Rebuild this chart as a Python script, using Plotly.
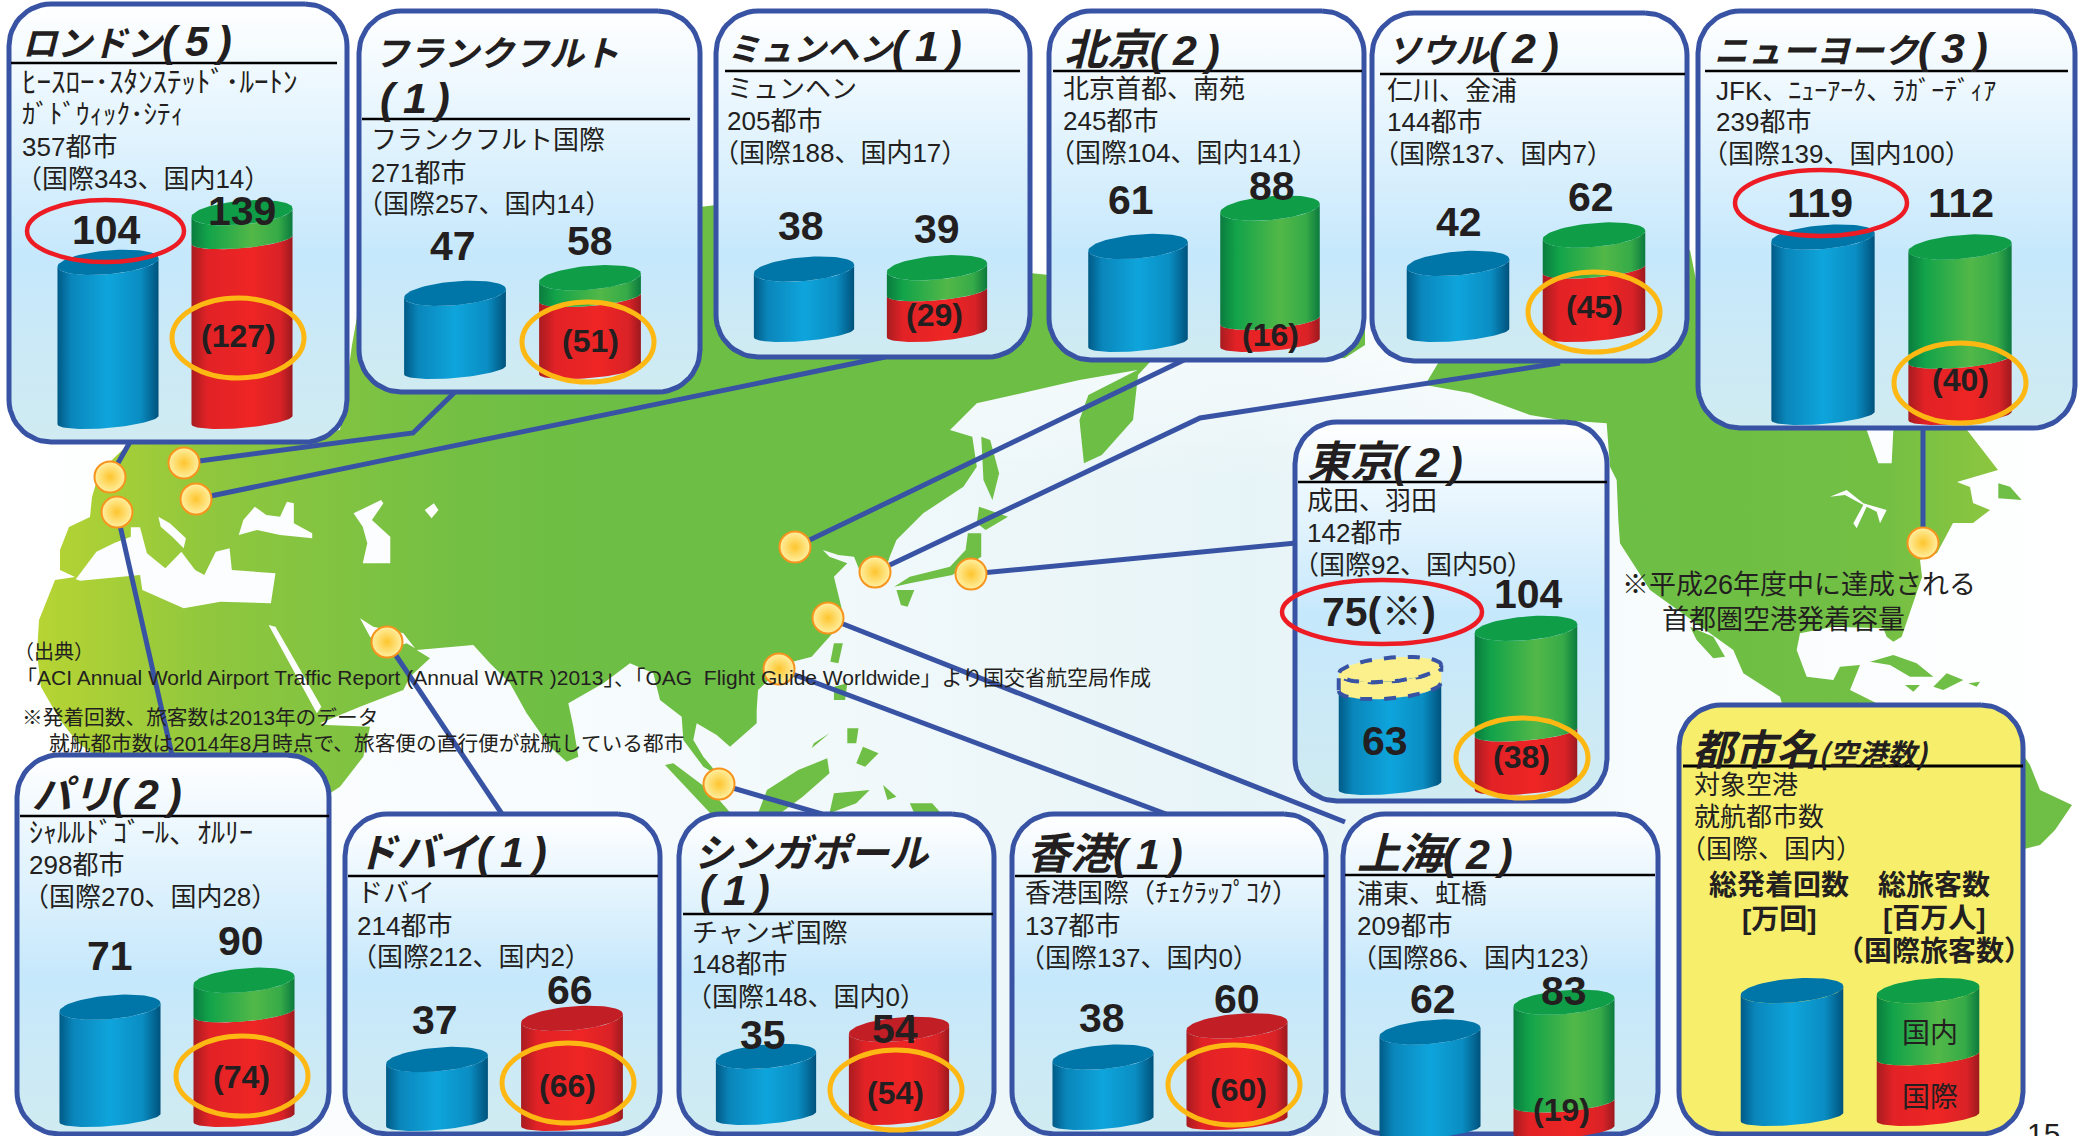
import numpy as np
import plotly.graph_objects as go

W, H = 2083, 1136
BORDER = '#3953a4'
INK = '#231f20'
FONT = 'Liberation Sans, Noto Sans CJK JP'
JP = 'Noto Sans CJK JP'
KX = 1.42  # pixels per unit on every cylinder axis
CAP_LIFT = 7  # the drawn top of a cylinder stands this far above its value
CAP_A = 8.4

# --- data ---
CITIES = ['ロンドン', 'フランクフルト', 'ミュンヘン', '北京', 'ソウル', 'ニューヨーク',
          '東京', 'パリ', 'ドバイ', 'シンガポール', '香港', '上海']
AIRPORT_COUNT = [5, 1, 1, 2, 2, 3, 2, 2, 1, 1, 1, 2]
MOVEMENTS = [104, 47, 38, 61, 42, 119, 63, 71, 37, 35, 38, 62]
PASSENGERS = [139, 58, 39, 88, 62, 112, 104, 90, 66, 54, 60, 83]
INTERNATIONAL = [127, 51, 29, 16, 45, 40, 38, 74, 66, 54, 60, 19]
TOKYO_CAPACITY = 75
LEGEND_VALUES = [82, 82, 43]
AIRPORT_LINES = [
    ['ﾋｰｽﾛｰ･ｽﾀﾝｽﾃｯﾄﾞ･ﾙｰﾄﾝ', 'ｶﾞﾄﾞｳｨｯｸ･ｼﾃｨ'],
    ['フランクフルト国際'], ['ミュンヘン'], ['北京首都、南苑'], ['仁川、金浦'],
    ['JFK、ﾆｭｰｱｰｸ、ﾗｶﾞｰﾃﾞｨｱ'], ['成田、羽田'], ['ｼｬﾙﾙﾄﾞｺﾞｰﾙ、ｵﾙﾘｰ'], ['ドバイ'],
    ['チャンギ国際'], ['香港国際（ﾁｪｸﾗｯﾌﾟｺｸ）'], ['浦東、虹橋'],
]
DESTINATIONS = [357, 271, 205, 245, 144, 239, 142, 298, 214, 148, 137, 209]
DEST_INTL = [343, 257, 188, 104, 137, 139, 92, 270, 212, 148, 137, 86]
DEST_DOM = [14, 14, 17, 141, 7, 100, 50, 28, 2, 0, 0, 123]

TITLE_SIZES = [35, 35, 33, 43, 34, 34, 43, 40, 40, 39, 43, 43]
WIDE_LINES = {'ﾋｰｽﾛｰ･ｽﾀﾝｽﾃｯﾄﾞ･ﾙｰﾄﾝ': 29, 'ｼｬﾙﾙﾄﾞｺﾞｰﾙ、ｵﾙﾘｰ': 28, 'ｶﾞﾄﾞｳｨｯｸ･ｼﾃｨ': 27}

# --- panel layout: box, gradient break, rule, title, text, cylinders, label centres ---
PANELS = [
    dict(box=(9, 4, 347, 442), brk=256, rule=(11, 337, 63), title=[(20, 40)], tx=20, ty=[83, 115, 147, 179], indent=[0, 0, 0, 8],
         c=(108, 242), base=420, m=(106, 230), p=(242, 211), i=(238, 336)),
    dict(box=(359, 11, 700, 392), brk=256, rule=(362, 690, 119), title=[(372, 50), (378, 98)], tx=369, ty=[140, 173, 204], indent=[0, 0, 0],
         c=(455, 590), base=370, m=(453, 246), p=(590, 241), i=(590, 341)),
    dict(box=(716, 11, 1030, 357), brk=256, rule=(725, 1020, 71), title=[(725, 46)], tx=725, ty=[89, 121, 153], indent=[0, 0, 0],
         c=(804, 937), base=333, m=(801, 226), p=(937, 229), i=(934, 315)),
    dict(box=(1049, 11, 1364, 360), brk=256, rule=(1053, 1362, 71), title=[(1062, 46)], tx=1061, ty=[89, 121, 153], indent=[0, 0, 0],
         c=(1138, 1270), base=343, m=(1131, 200), p=(1272, 186), i=(1270, 335)),
    dict(box=(1372, 13, 1687, 361), brk=256, rule=(1380, 1685, 74), title=[(1385, 48)], tx=1385, ty=[91, 122, 154], indent=[0, 0, 0],
         c=(1458, 1594), base=333, m=(1459, 222), p=(1591, 197), i=(1594, 307)),
    dict(box=(1698, 11, 2075, 428), brk=256, rule=(1705, 2068, 71), title=[(1712, 48)], tx=1714, ty=[91, 122, 154], indent=[0, 0, 0],
         c=(1823, 1960), base=416, m=(1820, 203), p=(1961, 203), i=(1960, 380)),
    dict(box=(1295, 422, 1607, 801), brk=616, rule=(1298, 1607, 482), title=[(1305, 458)], tx=1305, ty=[501, 533, 565], indent=[0, 0, 0],
         c=(1390, 1526), base=786, m=(1385, 741), p=(1528, 594), i=(1521, 757)),
    dict(box=(17, 755, 329, 1134), brk=976, rule=(20, 329, 816), title=[(30, 792)], tx=27, ty=[833, 865, 897], indent=[0, 0, 8],
         c=(110, 244), base=1118, m=(110, 956), p=(241, 941), i=(241, 1077)),
    dict(box=(345, 814, 660, 1134), brk=976, rule=(348, 658, 876), title=[(355, 850)], tx=355, ty=[893, 926, 957], indent=[0, 0, 8],
         c=(437, 572), base=1122, m=(435, 1020), p=(570, 990), i=(567, 1086)),
    dict(box=(679, 814, 994, 1134), brk=976, rule=(683, 993, 914), title=[(692, 850), (698, 890)], tx=690, ty=[933, 964, 997], indent=[0, 0, 8],
         c=(766, 899), base=1116, m=(763, 1035), p=(895, 1029), i=(895, 1093)),
    dict(box=(1012, 814, 1326, 1134), brk=976, rule=(1015, 1325, 876), title=[(1025, 850)], tx=1023, ty=[893, 926, 958], indent=[0, 0, 8],
         c=(1103, 1237), base=1121, m=(1102, 1018), p=(1237, 999), i=(1238, 1090)),
    dict(box=(1343, 814, 1658, 1134), brk=976, rule=(1345, 1655, 875), title=[(1355, 850)], tx=1355, ty=[894, 926, 958], indent=[0, 0, 8],
         c=(1430, 1564), base=1130, m=(1433, 999), p=(1564, 991), i=(1561, 1110)),
]
LEGEND_PANEL = dict(box=(1679, 705, 2023, 1134), rule=(1683, 2023, 766), c=(1792, 1928), base=1117)

RED_RINGS = [(27, 184, 200, 262), (1735, 1907, 170, 236), (1282, 1482, 580, 644)]
ORANGE_RINGS = [(238, 338), (588, 342), (1594, 312), (1960, 383), (1522, 758),
                (242, 1076), (568, 1083), (896, 1090), (1234, 1085)]

CITY_MARKERS_X = [110, 184, 196, 795, 875, 1923, 971, 117, 387, 719, 779, 828]
CITY_MARKERS_Y = [477, 463, 499, 547, 572, 543, 574, 512, 642, 784, 669, 618]
CONNECTORS = [
    [(110, 477), (130, 442)],
    [(184, 463), (413, 433), (455, 392)],
    [(196, 499), (885, 357)],
    [(795, 547), (1184, 360)],
    [(875, 572), (1200, 418), (1560, 363)],
    [(1923, 428), (1923, 543)],
    [(971, 574), (1296, 543)],
    [(117, 512), (172, 755)],
    [(387, 642), (502, 814)],
    [(719, 784), (822, 814)],
    [(779, 669), (1166, 814)],
    [(828, 618), (1345, 822)],
]


def crop(points, x0, y0, sx, sy=3.0):
    return [(x0 + x / sx, y0 + y / sy) for x, y in points]


def z4(points):
    return crop(points, 0, 420, 2.178)


def z5(points):
    return crop(points, 700, 400, 2.24)


def z9(points):
    return crop(points, 320, 560, 3.0)


def z10(points):
    return crop(points, 1600, 420, 3.0)


# --- rough map outlines, traced in pixels of the picture ---
EURAFRICA = (
    [(133, 440), (225, 442), (340, 430), (352, 345), (360, 300), (700, 207), (716, 205), (1030, 273),
     (1049, 275), (1365, 288), (1365, 345), (1345, 358), (1150, 362), (1138, 375)]
    + z5([(970, 60), (900, 165), (860, 190), (850, 60), (870, -15), (980, -90), (850, -60), (620, 10), (560, 90),
          (610, 110), (620, 200), (590, 260), (500, 340), (440, 420), (425, 470), (410, 530), (395, 565),
          (360, 520), (345, 470), (310, 465), (275, 450), (290, 470), (330, 490), (300, 530), (320, 640),
          (310, 680), (250, 770), (195, 790), (130, 870)])
    + z9([(1310, 450), (1310, 490), (1230, 560), (1190, 525), (1130, 490), (1120, 540), (1150, 590), (1200, 650),
          (1150, 620), (1090, 540), (1085, 470), (1020, 420), (1000, 340), (930, 310), (850, 370), (745, 430),
          (760, 500), (775, 590), (740, 605), (690, 560), (620, 460), (570, 370), (510, 310), (460, 255),
          (290, 270), (330, 295), (270, 350), (250, 390), (120, 440), (0, 490), (20, 495), (150, 500),
          (130, 590), (60, 680), (30, 700)])
    + [(330, 900), (100, 900), (92, 753), (78, 743), (60, 720), (41, 687), (37, 653), (39, 620), (55, 580),
       (75, 577), (60, 570), (60, 550), (69, 527), (90, 517), (92, 497), (99, 473), (115, 457)]
)
NORTH_AMERICA = (
    [(1425, 385), (1440, 360), (1690, 250), (1700, 300), (2020, 400), (1967, 430), (1998, 470), (1957, 482),
     (1970, 487), (1973, 503), (1990, 510), (1973, 523), (1953, 523), (1937, 553), (1920, 560), (1922, 577)]
    + z10([(905, 650), (880, 665), (860, 650), (850, 625), (700, 620), (600, 640), (590, 690), (620, 770),
           (700, 780), (720, 740), (780, 735), (750, 810), (830, 850), (830, 900), (560, 900), (540, 830), (430, 760),
           (400, 690), (330, 640), (150, 510), (60, 370), (55, 300), (50, 180), (30, 140), (20, 10)])
    + [(1560, 420), (1530, 415), (1470, 393)]
)
LAND_ISLANDS = [
    z5([(630, 110), (650, 120), (670, 220), (655, 300), (635, 240)]),
    z5([(625, 320), (690, 350), (640, 390), (620, 370)]),
    z5([(600, 400), (630, 400), (630, 470), (565, 525), (470, 550), (435, 560), (470, 530), (560, 500), (595, 450)]),
    z5([(440, 570), (480, 570), (465, 620), (450, 615)]),
    z5([(300, 730), (320, 730), (310, 790), (292, 785)]),
    z5([(300, 860), (330, 850), (325, 900), (300, 900)]),
    z5([(330, 985), (355, 985), (350, 1030), (330, 1030)]),
    z5([(365, 1040), (400, 1060), (370, 1100), (350, 1090)]),
    z5([(290, 1000), (250, 1045), (255, 1030)]),
    z5([(150, 1170), (220, 1110), (285, 1075), (290, 1120), (230, 1190), (180, 1240), (130, 1240)]),
    z5([(300, 1180), (380, 1170), (350, 1210), (290, 1240)]),
    z5([(410, 1155), (440, 1190), (420, 1200)]),
    z5([(470, 1210), (520, 1210), (540, 1240), (480, 1240)]),
    z9([(1035, 615), (1060, 610), (1180, 700), (1250, 780), (1190, 780)]),
    z10([(270, 620), (340, 650), (375, 710), (340, 715), (290, 660)]),
    z10([(1195, 190), (1230, 200), (1265, 240), (1195, 235)]),
    z10([(810, 725), (880, 705), (950, 730), (1000, 770), (930, 770), (870, 735)]),
    z10([(1000, 800), (1040, 760), (1090, 780), (1030, 810)]),
    z10([(915, 795), (960, 795), (940, 815)]),
    z10([(1105, 790), (1140, 785), (1130, 800)]),
    [(2020, 750), (2030, 765), (2040, 790), (2072, 805), (2055, 830), (2040, 845), (2020, 850)],
]
WATER = [
    z4([(165, 478), (210, 395), (250, 368), (285, 350), (285, 322), (305, 322), (320, 400), (360, 445), (395, 395),
        (425, 450), (445, 465), (470, 395), (500, 385), (505, 450), (600, 460), (590, 550), (480, 545), (400, 565),
        (310, 510), (305, 465), (175, 482)]),
    z4([(345, 290), (370, 310), (405, 355), (400, 385), (375, 350), (350, 320)]),
    z4([(520, 345), (530, 300), (555, 260), (580, 285), (610, 290), (625, 245), (640, 250), (640, 310), (680, 340),
        (680, 355), (610, 345), (560, 330)]),
    z4([(770, 280), (830, 240), (835, 250), (810, 300), (850, 350), (850, 430), (790, 430), (800, 370), (790, 320)]),
    z4([(925, 270), (945, 250), (955, 270), (940, 295)]),
    z4([(585, 615), (600, 620), (700, 860), (690, 880)]),
    z9([(120, 175), (160, 200), (250, 220), (285, 265), (260, 250), (200, 270), (150, 230)]),
    z10([(800, 30), (880, 30), (875, 130), (835, 130)]),
    z10([(690, 230), (740, 210), (790, 250), (860, 270), (840, 310), (830, 275), (800, 260), (770, 325), (760, 310),
         (790, 255), (735, 225)]),
]

BLUE_SIDE = [[0, '#005a86'], [0.14, '#0a86bb'], [0.5, '#0ea5dc'], [0.82, '#0a8dc2'], [1, '#00527c']]
RED_SIDE = [[0, '#a81c20'], [0.16, '#e22226'], [0.6, '#ee2524'], [0.88, '#d92227'], [1, '#9c1a1e']]
GREEN_SIDE = [[0, '#0a7c3e'], [0.16, '#12a34a'], [0.6, '#52b848'], [0.86, '#36ab48'], [1, '#0b7a3e']]
BLUE_TOP, RED_TOP, GREEN_TOP = '#0076a8', '#c21e25', '#0f9d48'

fig = go.Figure()


def area(points, color=None, gradient=None):
    xs, ys = zip(*points)
    fig.add_trace(go.Scatter(x=list(xs) + [xs[0]], y=list(ys) + [ys[0]], mode='lines', line=dict(width=0),
                             fill='toself', fillcolor=color, fillgradient=gradient, hoverinfo='skip'))


def rounded(x0, y0, x1, y1, r=42):
    pts = []
    for cx, cy, a0 in [(x1 - r, y0 + r, -90), (x1 - r, y1 - r, 0), (x0 + r, y1 - r, 90), (x0 + r, y0 + r, 180)]:
        for a in np.radians(np.linspace(a0, a0 + 90, 14)):
            pts.append((cx + r * np.cos(a), cy + r * np.sin(a)))
    return pts


def panel(box, brk=None, fill=None):
    x0, y0, x1, y1 = box
    pts = rounded(*box)
    xs, ys = zip(*pts)
    grad = None
    if brk:
        grad = dict(type='vertical', start=y0, stop=y1,
                    colorscale=[[0, '#ffffff'], [(brk - y0) / (y1 - y0), '#c6e8fc'], [1, '#d0ebf1']])
    fig.add_trace(go.Scatter(x=list(xs) + [xs[0]], y=list(ys) + [ys[0]], mode='lines',
                             line=dict(color=BORDER, width=5), fill='toself', fillcolor=fill, fillgradient=grad,
                             hoverinfo='skip'))


HALF = 0.377
TILT = 3.0


def arc(c, v, a):
    t = np.linspace(np.pi, 2 * np.pi, 40)
    return c + HALF * np.cos(t), v + TILT * np.cos(t) + a * np.sin(t)


def side(axis, c, v0, v1, a0, a1, colorscale=None, fill=None, line=None):
    bx, by = arc(c, v0, a0)
    tx, ty = arc(c, v1, a1)
    x = np.concatenate([bx, tx[::-1], bx[:1]])
    y = np.concatenate([by, ty[::-1], by[:1]])
    grad = dict(type='horizontal', start=c - HALF, stop=c + HALF, colorscale=colorscale) if colorscale else None
    fig.add_trace(go.Scatter(x=x, y=y, xaxis=f'x{axis}', yaxis=f'y{axis}', mode='lines', cliponaxis=False,
                             line=line or dict(width=0), fill='toself', fillcolor=fill, fillgradient=grad,
                             hoverinfo='skip'))


def cap(axis, c, v, color, line=None):
    t = np.linspace(0, 2 * np.pi, 70)
    fig.add_trace(go.Scatter(x=c + HALF * np.cos(t), y=v + TILT * np.cos(t) + CAP_A * np.sin(t),
                             xaxis=f'x{axis}', yaxis=f'y{axis}', mode='lines', cliponaxis=False,
                             line=line or dict(width=0), fill='toself', fillcolor=color, hoverinfo='skip'))


def cylinders(axis, movement, total, intl):
    side(axis, 0, 0, movement + CAP_LIFT, 5.6, CAP_A, BLUE_SIDE)
    cap(axis, 0, movement + CAP_LIFT, BLUE_TOP)
    if intl < total:
        side(axis, 1, 0, intl, 5.6, 6, RED_SIDE)
        side(axis, 1, intl, total + CAP_LIFT, 6, CAP_A, GREEN_SIDE)
        cap(axis, 1, total + CAP_LIFT, GREEN_TOP)
    else:
        side(axis, 1, 0, total + CAP_LIFT, 5.6, CAP_A, RED_SIDE)
        cap(axis, 1, total + CAP_LIFT, RED_TOP)


def add_axes(axis, c, base):
    gap = (c[1] - c[0]) / 2
    low = min(base + 24, H)
    high = base - 240
    fig.update_layout(**{
        f'xaxis{axis}': dict(domain=[(c[0] - gap) / W, (c[1] + gap) / W], range=[-0.5, 1.5], visible=False,
                             anchor=f'y{axis}', fixedrange=True),
        f'yaxis{axis}': dict(domain=[(H - low) / H, (H - high) / H], range=[-(low - base) / KX, (base - high) / KX],
                             visible=False, anchor=f'x{axis}', fixedrange=True),
    })


def label(x, y, text, size=26, anchor='left', family=FONT, color=INK):
    fig.add_annotation(x=x, y=y, xref='x', yref='y', text=text, showarrow=False, xanchor=anchor, yanchor='middle',
                       font=dict(family=family, size=size, color=color))


def paren_shift(text):
    return 14 if text.startswith('（') else 0


# background and map
area([(0, 250), (W, 250), (W, H), (0, H)],
     gradient=dict(type='horizontal', start=0, stop=W,
                   colorscale=[[0, '#ffffff'], [0.3, '#f6fbfd'], [0.6, '#e7f4f7'], [0.8, '#f8fcfd'], [1, '#ffffff']]))
area([(0, 250), (W, 250), (W, 480), (0, 480)],
     gradient=dict(type='vertical', start=250, stop=480,
                   colorscale=[[0, 'rgba(255,255,255,1)'], [1, 'rgba(255,255,255,0)']]))
area(EURAFRICA, gradient=dict(type='horizontal', start=37, stop=620,
                              colorscale=[[0, '#b7d433'], [0.3, '#8fc73e'], [0.75, '#72bf44'], [1, '#6dbe45']]))
area(NORTH_AMERICA, gradient=dict(type='horizontal', start=1600, stop=2000,
                                  colorscale=[[0, '#6dbe45'], [0.7, '#72bf44'], [1, '#8dc63f']]))
for isle in LAND_ISLANDS:
    area(isle, color='#6fbe45')
for pond in WATER:
    area(pond, color='#fbfdfe')

# connector lines and city markers
for path in CONNECTORS:
    xs, ys = zip(*path)
    fig.add_trace(go.Scatter(x=xs, y=ys, mode='lines', line=dict(color=BORDER, width=5), hoverinfo='skip'))
fig.add_trace(go.Scatter(x=CITY_MARKERS_X, y=CITY_MARKERS_Y, mode='markers', hoverinfo='skip',
                         marker=dict(size=31, color='#fff0a3', gradient=dict(type='radial', color='#fdc52e'),
                                     line=dict(color='#f7941d', width=2))))

# city panels
for n, p in enumerate(PANELS):
    axis = n + 2
    panel(p['box'], brk=p['brk'])
    add_axes(axis, p['c'], p['base'])
    cylinders(axis, MOVEMENTS[n], PASSENGERS[n], INTERNATIONAL[n])
    if CITIES[n] == '東京':
        dash = dict(color=BORDER, width=4, dash='dash')
        side(axis, 0, MOVEMENTS[n] + CAP_LIFT, TOKYO_CAPACITY + CAP_LIFT, CAP_A, CAP_A, fill='#fbf08b', line=dash)
        cap(axis, 0, TOKYO_CAPACITY + CAP_LIFT, '#fbf08b', line=dash)

    x0, x1, y = p['rule']
    fig.add_shape(type='line', x0=x0, x1=x1, y0=y, y1=y, line=dict(color='#000000', width=2.5), layer='above')

    size = TITLE_SIZES[n]
    suffix = (f'<span style="font-family:Liberation Sans;font-size:43px">(\u2009{AIRPORT_COUNT[n]}\u2009)</span>')
    parts = [CITIES[n] + suffix] if len(p['title']) == 1 else [CITIES[n], suffix]
    for text, (tx, ty) in zip(parts, p['title']):
        label(tx, ty, f'<b><i>{text}</i></b>', size=size, family=JP)

    lines = AIRPORT_LINES[n] + [f'{DESTINATIONS[n]}都市', f'（国際{DEST_INTL[n]}、国内{DEST_DOM[n]}）']
    for text, ty, shift in zip(lines, p['ty'], p['indent']):
        label(p['tx'] + shift - paren_shift(text), ty, text, size=WIDE_LINES.get(text, 26))

    label(p['m'][0], p['m'][1], f'<b>{MOVEMENTS[n]}</b>', size=41, anchor='center')
    label(p['p'][0], p['p'][1], f'<b>{PASSENGERS[n]}</b>', size=41, anchor='center')
    label(p['i'][0], p['i'][1], f'<b>({INTERNATIONAL[n]})</b>', size=32, anchor='center')

label(1379, 612, f'<b>{TOKYO_CAPACITY}(※)</b>', size=41, anchor='center')

# legend panel
panel(LEGEND_PANEL['box'], fill='#f7ee6b')
add_axes(len(PANELS) + 2, LEGEND_PANEL['c'], LEGEND_PANEL['base'])
cylinders(len(PANELS) + 2, *LEGEND_VALUES)
x0, x1, y = LEGEND_PANEL['rule']
fig.add_shape(type='line', x0=x0, x1=x1, y0=y, y1=y, line=dict(color='#000000', width=3), layer='above')
label(1690, 746, '<b><i>都市名<span style="font-size:29px">(空港数)</span></i></b>', size=42, family=JP)
for text, ty in zip(['対象空港', '就航都市数', '（国際、国内）'], [785, 817, 849]):
    label(1692 - paren_shift(text), ty, text)
label(1779, 885, '<b>総発着回数</b>', size=28, anchor='center')
label(1779, 919, '<b>[万回]</b>', size=28, anchor='center')
label(1934, 885, '<b>総旅客数</b>', size=28, anchor='center')
label(1934, 918, '<b>[百万人]</b>', size=28, anchor='center')
label(1934, 951, '<b>（国際旅客数）</b>', size=28, anchor='center')
label(1930, 1033, '国内', size=28, anchor='center')
label(1930, 1097, '国際', size=28, anchor='center')

# rings around the figures picked out
for x0, x1, y0, y1 in RED_RINGS:
    fig.add_shape(type='circle', x0=x0, x1=x1, y0=y0, y1=y1, line=dict(color='#ed1c24', width=4.5), layer='above')
for cx, cy in ORANGE_RINGS:
    fig.add_shape(type='circle', x0=cx - 66, x1=cx + 66, y0=cy - 40, y1=cy + 40,
                  line=dict(color='#fdb813', width=5), layer='above')

# notes
label(12, 652, '（出典）', size=20)
label(14, 677, '「ACI Annual World Airport Traffic Report (Annual WATR )2013」、「OAG  Flight Guide Worldwide」より国交省航空局作成', size=21)
label(20, 717, '※発着回数、旅客数は2013年のデータ', size=20.7)
label(47, 743, '就航都市数は2014年8月時点で、旅客便の直行便が就航している都市', size=20.7)
label(1620, 585, '※平成26年度中に達成される', size=27)
label(1660, 620, '首都圏空港発着容量', size=27)
label(2025, 1133, '15', size=30)

fig.update_layout(
    width=W, height=H, margin=dict(l=0, r=0, t=0, b=0), showlegend=False,
    paper_bgcolor='#ffffff', plot_bgcolor='rgba(0,0,0,0)',
    xaxis=dict(domain=[0, 1], range=[0, W], visible=False, fixedrange=True),
    yaxis=dict(domain=[0, 1], range=[H, 0], visible=False, fixedrange=True),
)

fig.write_html("out.html", config=dict(displayModeBar=False),
               post_script="document.body.style.margin='0';document.body.style.overflow='hidden';")
